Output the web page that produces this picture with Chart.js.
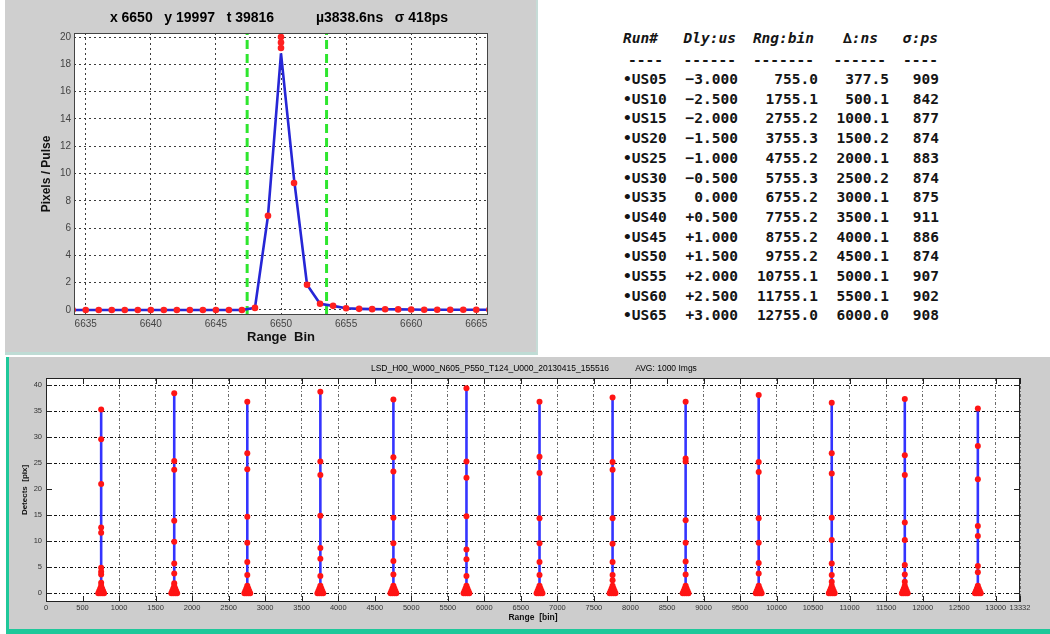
<!DOCTYPE html>
<html>
<head>
<meta charset="utf-8">
<script src="https://cdn.jsdelivr.net/npm/chart.js@4.4.1/dist/chart.umd.min.js"></script>
<style>
  body { margin: 0; width: 1050px; height: 634px; background: #fff; position: relative; overflow: hidden; font-family: "Liberation Sans", Arial, sans-serif; }
  #topPanel { position: absolute; left: 5px; top: 0; width: 531px; height: 352px; background: #cfcfcf; border-right: 2px solid #c6dcd7; border-bottom: 3px solid #bfdcd5; }
  #pulseChart { position: absolute; left: 5px; top: 0; }
  #bottomPanel { position: absolute; left: 6px; top: 357px; width: 1041px; height: 272px; background: #cdcdcd; border-left: 3px solid #1fc89a; border-bottom: 5px solid #1fc89a; }
  #stemChart { position: absolute; left: 9px; top: 358px; }
  .cell { position: absolute; font: bold 14.5px "DejaVu Sans Mono", monospace; color: #151515; white-space: pre; line-height: 18px; transform: translateY(-50%); }
  .head { font-style: italic; }
</style>
</head>
<body>
<div id="topPanel"></div>
<canvas id="pulseChart" width="530" height="350"></canvas>
<div id="tbl"></div>
<div id="bottomPanel"></div>
<canvas id="stemChart" width="1041" height="270"></canvas>
<script>
// ---- top plot: single pulse histogram ----
const binX = [6634, 6635, 6636, 6637, 6638, 6639, 6640, 6641, 6642, 6643, 6644, 6645, 6646, 6647,
              6648, 6649, 6650, 6651, 6652, 6653, 6654, 6655, 6656, 6657, 6658, 6659, 6660,
              6661, 6662, 6663, 6664, 6665, 6666];
const pixelsPerPulse = [0, 0, 0, 0, 0, 0, 0, 0, 0, 0, 0, 0, 0, 0,
                        0.15, 6.9, 20, 9.3, 1.85, 0.45, 0.3, 0.12, 0.08, 0.06, 0.05, 0.04, 0.03,
                        0.02, 0.02, 0.02, 0.02, 0.02, 0.02];
const fitLine = [0, 0, 0, 0, 0, 0, 0, 0, 0, 0, 0, 0, 0, 0,
                 0.15, 6.9, 18.8, 9.6, 1.85, 0.45, 0.3, 0.12, 0.08, 0.06, 0.05, 0.04, 0.03,
                 0.02, 0.02, 0.02, 0.02, 0.02, 0.02];
const peakExtraX = [6650, 6650];
const peakExtraY = [19.6, 19.2];
const gateBins = [6647.4, 6653.5];
const pulseXTicks = [6635, 6640, 6645, 6650, 6655, 6660, 6665];
const pulseYTicks = [0, 2, 4, 6, 8, 10, 12, 14, 16, 18, 20];

// ---- table ----
const runIds = ["US05", "US10", "US15", "US20", "US25", "US30", "US35", "US40", "US45", "US50", "US55", "US60", "US65"];
const delayUs = [-3.0, -2.5, -2.0, -1.5, -1.0, -0.5, 0.0, 0.5, 1.0, 1.5, 2.0, 2.5, 3.0];
const rangeBin = [755.0, 1755.1, 2755.2, 3755.3, 4755.2, 5755.3, 6755.2, 7755.2, 8755.2, 9755.2, 10755.1, 11755.1, 12755.0];
const deltaNs = [377.5, 500.1, 1000.1, 1500.2, 2000.1, 2500.2, 3000.1, 3500.1, 4000.1, 4500.1, 5000.1, 5500.1, 6000.0];
const sigmaPs = [909, 842, 877, 874, 883, 874, 875, 911, 886, 874, 907, 902, 908];

// ---- bottom plot: detections per range gate ----
const stemHits = [
  [35.3, 29.6, 21.0, 12.6, 11.6, 4.9, 4.1, 3.6, 2.0],
  [38.4, 25.4, 23.7, 13.9, 9.9, 5.7, 3.8, 1.9],
  [36.8, 26.9, 23.8, 14.7, 9.7, 6.0, 3.5],
  [38.7, 25.3, 22.7, 14.9, 8.7, 6.6, 3.3],
  [37.2, 26.1, 23.4, 14.5, 9.6, 6.2, 3.6],
  [39.4, 25.3, 22.2, 14.8, 8.4, 6.5, 3.3],
  [36.8, 26.2, 23.1, 14.4, 9.6, 6.0, 3.5],
  [37.6, 25.2, 23.7, 14.4, 9.5, 6.0, 3.5, 2.5],
  [36.8, 25.9, 25.3, 14.0, 9.7, 6.1, 3.6],
  [38.1, 25.2, 23.3, 14.4, 9.7, 5.8, 3.8],
  [36.6, 26.9, 23.0, 14.5, 10.2, 5.7, 3.5, 2.2],
  [37.3, 26.5, 22.7, 13.6, 10.2, 5.4, 3.6, 2.2],
  [35.5, 28.3, 21.9, 12.9, 11.0, 5.2, 4.0]
];
// low-count pile at the foot of every stem (bin offset, detections)
const pileDx = [-40, -14, 14, 40, -27, 0, 27, -13, 13, 0];
const pileY = [0, 0, 0, 0, 0.4, 0.4, 0.4, 0.9, 0.9, 1.4];
const stemXTicks = [0, 500, 1000, 1500, 2000, 2500, 3000, 3500, 4000, 4500, 5000, 5500, 6000, 6500,
                    7000, 7500, 8000, 8500, 9000, 9500, 10000, 10500, 11000, 11500, 12000, 12500, 13000, 13332];
const stemYTicks = [0, 5, 10, 15, 20, 25, 30, 35, 40];

const FONT = '"Liberation Sans", Arial, sans-serif';

const matlabFrame = {
  id: 'matlabFrame',
  beforeDraw(chart) {
    const { ctx, chartArea: a } = chart;
    ctx.save();
    ctx.fillStyle = '#fff';
    ctx.fillRect(a.left, a.top, a.right - a.left, a.bottom - a.top);
    ctx.restore();
  },
  afterDraw(chart, args, opts) {
    const { ctx, chartArea: a, scales } = chart;
    ctx.save();
    ctx.strokeStyle = opts.boxColor;
    ctx.lineWidth = 1;
    ctx.strokeRect(a.left + 0.5, a.top + 0.5, a.right - a.left - 1, a.bottom - a.top - 1);
    const L = opts.tickLen;
    if (L) {
      ctx.beginPath();
      scales.x.ticks.forEach(t => {
        const px = Math.round(scales.x.getPixelForValue(t.value)) + 0.5;
        ctx.moveTo(px, a.bottom); ctx.lineTo(px, a.bottom - L);
        ctx.moveTo(px, a.top); ctx.lineTo(px, a.top + L);
      });
      scales.y.ticks.forEach(t => {
        const py = Math.round(scales.y.getPixelForValue(t.value)) + 0.5;
        ctx.moveTo(a.left, py); ctx.lineTo(a.left + L, py);
        ctx.moveTo(a.right, py); ctx.lineTo(a.right - L, py);
      });
      ctx.stroke();
    }
    ctx.fillStyle = '#000';
    ctx.textBaseline = 'middle';
    opts.texts.forEach(t => {
      ctx.font = t.font;
      ctx.textAlign = t.align || 'center';
      ctx.fillText(t.text, t.x, t.y);
    });
    ctx.restore();
  }
};

function fixedTicks(list) {
  return s => { s.ticks = list.map(v => ({ value: v })); };
}

// top chart
new Chart(document.getElementById('pulseChart'), {
  type: 'scatter',
  data: {
    datasets: [
      {
        data: binX.map((x, i) => ({ x: x, y: pixelsPerPulse[i] }))
          .concat(peakExtraX.map((x, i) => ({ x: x, y: peakExtraY[i] }))),
        pointRadius: 3.3, pointBackgroundColor: '#ff2020', pointBorderWidth: 0, order: 0
      },
      {
        data: binX.map((x, i) => ({ x: x, y: fitLine[i] })),
        showLine: true, borderColor: '#2626d6', borderWidth: 2.6, pointRadius: 0, order: 1
      },
      ...gateBins.map(g => ({
        data: [{ x: g, y: -0.37 }, { x: g, y: 20.3 }],
        showLine: true, borderColor: '#2ee62e', borderWidth: 3, borderDash: [9, 5], pointRadius: 0, order: 2
      }))
    ]
  },
  options: {
    responsive: false,
    animation: false,
    events: [],
    layout: { padding: { left: 0, right: 47, top: 33, bottom: 0 } },
    scales: {
      x: {
        type: 'linear', min: 6634.1, max: 6665.9,
        afterBuildTicks: fixedTicks(pulseXTicks),
        afterFit: s => { s.height = 35; },
        grid: { color: '#3c3c3c', lineWidth: 1, drawTicks: false },
        border: { display: false, dash: [2, 3] },
        ticks: { padding: 3, color: '#444', font: { family: FONT, size: 10 }, maxRotation: 0, autoSkip: false, callback: v => String(v) },
        title: { display: true, text: 'Range  Bin', color: '#111', font: { family: FONT, size: 13, weight: 'bold' }, padding: { top: 0, bottom: 5.2 } }
      },
      y: {
        type: 'linear', min: -0.37, max: 20.3,
        afterBuildTicks: fixedTicks(pulseYTicks),
        afterFit: s => { s.width = 69; },
        grid: { color: '#3c3c3c', lineWidth: 1, drawTicks: false },
        border: { display: false, dash: [2, 3] },
        ticks: { padding: 3, color: '#444', font: { family: FONT, size: 10 }, callback: v => String(v) },
        title: { display: true, text: 'Pixels / Pulse', color: '#111', font: { family: FONT, size: 12, weight: 'bold' }, padding: { top: 34.5, bottom: 0 } }
      }
    },
    plugins: {
      legend: { display: false },
      tooltip: { enabled: false },
      matlabFrame: {
        boxColor: '#444', tickLen: 0,
        texts: [
          { text: 'x 6650   y 19997   t 39816', x: 187, y: 18, font: 'bold 14px ' + FONT },
          { text: '\u00b53838.6ns   \u03c3 418ps', x: 377, y: 18, font: 'bold 14px ' + FONT }
        ]
      }
    }
  },
  plugins: [matlabFrame]
});

// table
const tbl = document.getElementById('tbl');
function cell(text, y, x, alignRight, cls) {
  const d = document.createElement('div');
  d.className = 'cell' + (cls ? ' ' + cls : '');
  d.textContent = text;
  d.style.top = y + 'px';
  if (alignRight) d.style.right = (1050 - x) + 'px'; else d.style.left = x + 'px';
  tbl.appendChild(d);
}
const heads = ['Run#', 'Dly:us', 'Rng:bin', '\u2206:ns', '\u03c3:ps'];
cell(heads[0], 38, 623, false, 'head');
cell(heads[1], 38, 736, true, 'head');
cell(heads[2], 38, 814, true, 'head');
cell(heads[3], 38, 878, true, 'head');
cell(heads[4], 38, 938, true, 'head');
cell('----', 60, 628, false);
cell('------', 60, 736, true);
cell('-------', 60, 814, true);
cell('------', 60, 886, true);
cell('----', 60, 938, true);
runIds.forEach((id, i) => {
  const y = 79 + i * 19.7;
  const d = delayUs[i];
  cell('\u2022' + id, y, 623, false);
  cell((d > 0 ? '+' : d < 0 ? '\u2212' : '') + Math.abs(d).toFixed(3), y, 738, true);
  cell(rangeBin[i].toFixed(1), y, 818, true);
  cell(deltaNs[i].toFixed(1), y, 889, true);
  cell(String(sigmaPs[i]), y, 939, true);
});

// bottom chart
const hitPoints = [];
rangeBin.forEach((b, i) => {
  stemHits[i].forEach(v => hitPoints.push({ x: b, y: v }));
  pileY.forEach((v, k) => hitPoints.push({ x: b + pileDx[k], y: v }));
});
const skipX = [500, 4500, 8500];
const skipY = [20];

new Chart(document.getElementById('stemChart'), {
  type: 'scatter',
  data: {
    datasets: [
      { data: hitPoints, pointRadius: 3, pointBackgroundColor: '#ff1414', pointBorderWidth: 0, order: 0 },
      ...rangeBin.map((b, i) => ({
        data: [{ x: b, y: 0 }, { x: b, y: Math.max(...stemHits[i]) }],
        showLine: true, borderColor: '#3434ff', borderWidth: 2.6, pointRadius: 0, order: 1
      }))
    ]
  },
  options: {
    responsive: false,
    animation: false,
    events: [],
    layout: { padding: { left: 0, right: 30, top: 20, bottom: 0 } },
    scales: {
      x: {
        type: 'linear', min: 0, max: 13332,
        afterBuildTicks: fixedTicks(stemXTicks),
        afterFit: s => { s.height = 26; },
        grid: { color: c => skipX.includes(c.tick && c.tick.value) ? 'rgba(0,0,0,0)' : '#6a6a6a', lineWidth: 1, drawTicks: false },
        border: { display: false, dash: [3, 2, 1, 2] },
        ticks: { padding: 1, color: '#333', font: { family: FONT, size: 7.5 }, maxRotation: 0, autoSkip: false, callback: v => String(v) },
        title: { display: true, text: 'Range  [bin]', color: '#111', font: { family: FONT, size: 8.5, weight: 'bold' }, padding: { top: 0, bottom: 4.9 } }
      },
      y: {
        type: 'linear', min: -1.7, max: 41.35,
        afterBuildTicks: fixedTicks(stemYTicks),
        afterFit: s => { s.width = 37; },
        grid: { color: c => skipY.includes(c.tick && c.tick.value) ? 'rgba(0,0,0,0)' : '#111', lineWidth: 1, drawTicks: false },
        border: { display: false, dash: [3, 2, 1, 2] },
        ticks: { padding: 4, color: '#333', font: { family: FONT, size: 7.5 }, callback: v => String(v) },
        title: { display: true, text: 'Detects  [pix]', color: '#111', font: { family: FONT, size: 8, weight: 'bold' }, padding: { top: 11.2, bottom: 0 } }
      }
    },
    plugins: {
      legend: { display: false },
      tooltip: { enabled: false },
      matlabFrame: {
        boxColor: '#222', tickLen: 6,
        texts: [
          { text: 'LSD_H00_W000_N605_P550_T124_U000_20130415_155516', x: 481, y: 11, font: '8.5px ' + FONT },
          { text: 'AVG: 1000 Imgs', x: 657, y: 11, font: '8.5px ' + FONT }
        ]
      }
    }
  },
  plugins: [matlabFrame]
});
</script>
</body>
</html>
